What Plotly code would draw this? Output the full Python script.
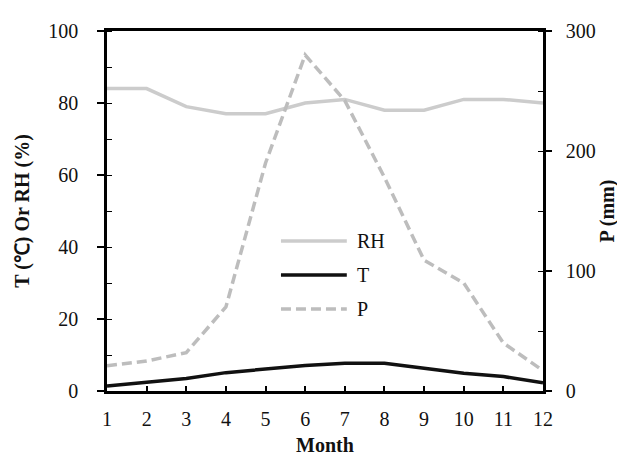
import plotly.graph_objects as go

months = list(range(1, 13))
rh = [84, 84, 79, 77, 77, 80, 81, 78, 78, 81, 81, 80]
temp = [1.4, 2.4, 3.5, 5.1, 6.2, 7.1, 7.7, 7.7, 6.3, 4.9, 4.0, 2.3]
precip = [21, 25, 32, 70, 190, 280, 242, 178, 109, 90, 40, 17]

left_ticks = [0, 20, 40, 60, 80, 100]
right_ticks = [0, 100, 200, 300]
series_names = ["RH", "T", "P"]

FONT = "Liberation Serif"
styles = {
    "RH": dict(color="#cccccc", width=3.5, dash="solid"),
    "T": dict(color="#111111", width=3.5, dash="solid"),
    "P": dict(color="#bdbdbd", width=3.5, dash="10px,5px"),
}

fig = go.Figure()
fig.add_trace(go.Scatter(x=months, y=rh, mode="lines", name="RH",
                         line=styles["RH"], yaxis="y", showlegend=False))
fig.add_trace(go.Scatter(x=months, y=temp, mode="lines", name="T",
                         line=styles["T"], yaxis="y", showlegend=False))
fig.add_trace(go.Scatter(x=months, y=precip, mode="lines", name="P",
                         line=styles["P"], yaxis="y2", showlegend=False))

# custom legend (paper coords)
leg_x0, leg_x1, txt_x = 0.399, 0.550, 0.569
leg_ys = [0.417, 0.322, 0.228]
for name, ly in zip(series_names, leg_ys):
    st = styles[name]
    fig.add_shape(type="line", xref="paper", yref="paper",
                  x0=leg_x0, x1=leg_x1, y0=ly, y1=ly,
                  line=dict(color=st["color"], width=st["width"], dash=st["dash"]))
    fig.add_annotation(x=txt_x, y=ly, xref="paper", yref="paper", text=name,
                       showarrow=False, xanchor="left", yanchor="middle",
                       font=dict(family=FONT, size=20, color="#111"))

axis_common = dict(showline=True, linecolor="black", linewidth=2.5,
                   showgrid=False, zeroline=False, tickcolor="black",
                   tickfont=dict(family=FONT, size=20, color="#111"))

fig.update_layout(
    width=625, height=458,
    margin=dict(l=99, r=90, t=20, b=69),
    paper_bgcolor="white", plot_bgcolor="white",
    font=dict(family=FONT, color="#111"),
    xaxis=dict(range=[1, 12], tickvals=months, ticks="inside", ticklen=5,
               tickwidth=1.5, mirror=True, ticklabelstandoff=8,
               title=dict(text="<b>Month</b>", font=dict(family=FONT, size=20),
                          standoff=10),
               **axis_common),
    yaxis=dict(range=[0, 100], tickvals=left_ticks, ticks="outside", ticklen=7,
               tickwidth=1.5, ticklabelstandoff=15,
               minor=dict(ticks="inside", ticklen=5, dtick=10, tickwidth=1.2,
                          tickcolor="black"),
               title=dict(text="<b>T (℃) Or RH (%)</b>",
                          font=dict(family=FONT, size=20), standoff=14),
               **axis_common),
    yaxis2=dict(range=[0, 300], tickvals=right_ticks, ticks="outside", ticklen=6,
                tickwidth=1.5, overlaying="y", side="right", ticklabelstandoff=10,
                minor=dict(ticks="inside", ticklen=5, dtick=50, tickwidth=1.2,
                           tickcolor="black"),
                title=dict(text="<b>P (mm)</b>", font=dict(family=FONT, size=20),
                           standoff=6),
                **axis_common),
)

fig.write_html("out.html")
